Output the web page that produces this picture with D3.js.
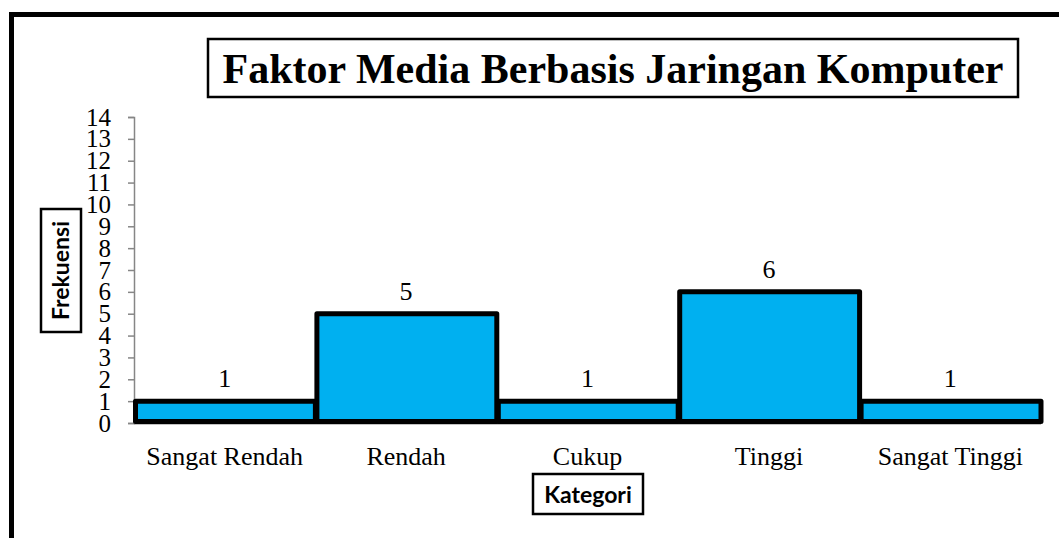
<!DOCTYPE html>
<html>
<head>
<meta charset="utf-8">
<script src="https://cdn.jsdelivr.net/npm/d3@7"></script>
<style>
  body { margin: 0; background: #fff; }
  svg { display: block; }
</style>
</head>
<body>
<div id="chart"></div>
<script>
// Data
const categories = ["Sangat Rendah", "Rendah", "Cukup", "Tinggi", "Sangat Tinggi"];
const values = [1, 5, 1, 6, 1];
const yTicks = [0, 1, 2, 3, 4, 5, 6, 7, 8, 9, 10, 11, 12, 13, 14];

const width = 1059;
const height = 538;

const svg = d3.select("#chart")
    .append("svg")
    .attr("width", width)
    .attr("height", height);

// outer frame (cut off at right and bottom)
svg.append("rect")
    .attr("x", 11.5)
    .attr("y", 14.5)
    .attr("width", 1200)
    .attr("height", 700)
    .attr("fill", "none")
    .attr("stroke", "#000")
    .attr("stroke-width", 5);

const plot = {left: 134, right: 1041, top: 117, bottom: 423};

const x = d3.scaleBand()
    .domain(categories)
    .range([plot.left, plot.right])
    .paddingInner(0)
    .paddingOuter(0);

const y = d3.scaleLinear()
    .domain([0, 14])
    .range([plot.bottom, plot.top]);

// y axis
const yAxis = svg.append("g")
    .attr("transform", `translate(${plot.left},0)`)
    .call(d3.axisLeft(y).tickValues(yTicks).tickSize(6).tickPadding(17));
yAxis.select(".domain").attr("stroke", "#868686").attr("stroke-width", 1.5);
yAxis.selectAll(".tick line").attr("stroke", "#868686").attr("stroke-width", 1.5);
yAxis.selectAll(".tick text")
    .attr("fill", "#000")
    .style("font-family", "'Liberation Serif', 'Times New Roman', serif")
    .style("font-size", "25px");

// baseline
svg.append("line")
    .attr("x1", plot.left)
    .attr("x2", plot.right)
    .attr("y1", y(0) + 0.5)
    .attr("y2", y(0) + 0.5)
    .attr("stroke", "#868686")
    .attr("stroke-width", 2);

// bars
svg.selectAll("rect.bar")
    .data(values)
    .enter().append("rect")
    .attr("class", "bar")
    .attr("x", (d, i) => x(categories[i]) + 1.5)
    .attr("width", x.bandwidth() - 1.5)
    .attr("y", d => y(d))
    .attr("height", d => y(0) - y(d) - 1.5)
    .attr("fill", "#00B0F0")
    .attr("stroke", "#000")
    .attr("stroke-width", 5)
    .attr("stroke-linejoin", "round");

// value labels
svg.selectAll("text.value")
    .data(values)
    .enter().append("text")
    .attr("class", "value")
    .attr("x", (d, i) => x(categories[i]) + x.bandwidth() / 2)
    .attr("y", d => y(d) - 14)
    .attr("text-anchor", "middle")
    .style("font-family", "'Liberation Serif', 'Times New Roman', serif")
    .style("font-size", "26px")
    .text(d => d);

// category labels
svg.selectAll("text.cat")
    .data(categories)
    .enter().append("text")
    .attr("class", "cat")
    .attr("x", d => x(d) + x.bandwidth() / 2)
    .attr("y", 465)
    .attr("text-anchor", "middle")
    .style("font-family", "'Liberation Serif', 'Times New Roman', serif")
    .style("font-size", "26px")
    .text(d => d);

// title box
svg.append("rect")
    .attr("x", 208)
    .attr("y", 39)
    .attr("width", 810)
    .attr("height", 58)
    .attr("fill", "#fff")
    .attr("stroke", "#000")
    .attr("stroke-width", 2.5);
svg.append("text")
    .attr("x", 613)
    .attr("y", 83)
    .attr("text-anchor", "middle")
    .style("font-family", "'Liberation Serif', 'Times New Roman', serif")
    .style("font-weight", "bold")
    .style("font-size", "42px")
    .text("Faktor Media Berbasis Jaringan Komputer");

// x axis title box
svg.append("rect")
    .attr("x", 533)
    .attr("y", 474)
    .attr("width", 110)
    .attr("height", 40)
    .attr("fill", "#fff")
    .attr("stroke", "#000")
    .attr("stroke-width", 2.5);
svg.append("text")
    .attr("x", 588)
    .attr("y", 503)
    .attr("text-anchor", "middle")
    .style("font-family", "Lato, 'Open Sans', sans-serif")
    .style("font-weight", "bold")
    .style("font-size", "23px")
    .text("Kategori");

// y axis title box
svg.append("rect")
    .attr("x", 41)
    .attr("y", 209)
    .attr("width", 40)
    .attr("height", 123)
    .attr("fill", "#fff")
    .attr("stroke", "#000")
    .attr("stroke-width", 2.5);
svg.append("text")
    .attr("transform", "translate(69,270.5) rotate(-90)")
    .attr("text-anchor", "middle")
    .style("font-family", "Lato, 'Open Sans', sans-serif")
    .style("font-weight", "bold")
    .style("font-size", "23px")
    .text("Frekuensi");
</script>
</body>
</html>
